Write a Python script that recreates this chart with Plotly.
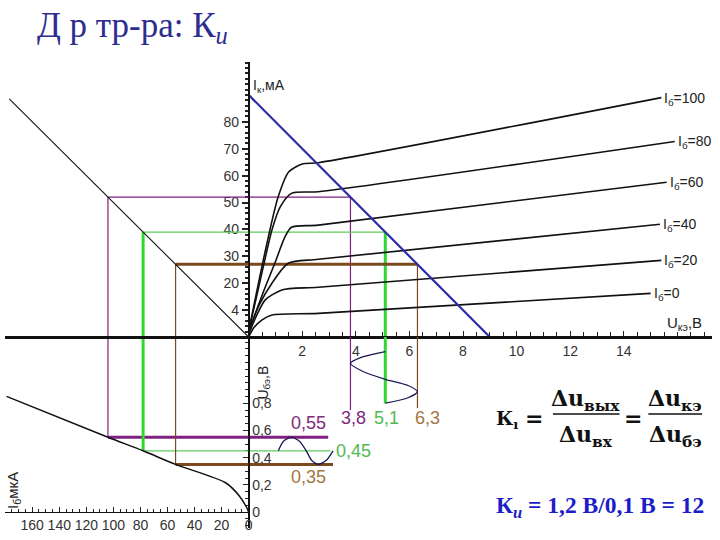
import plotly.graph_objects as go

# ---------------- data ----------------
# output characteristics Iк(Uкэ) for Iб = 0..100 мкА
IB_LEVELS = [100, 80, 60, 40, 20, 0]
U_100 = [0, 0.6, 1.1, 1.5, 2.0, 2.6, 15.4]
I_100 = [2, 31, 52, 61.4, 64.3, 64.8, 89]
U_80 = [0, 0.5, 0.87, 1.18, 1.6, 2.6, 15.9]
I_80 = [2, 24, 39.8, 48.4, 53.4, 54, 72.7]
U_60 = [0, 0.6, 1.0, 1.36, 1.6, 2.6, 15.6]
I_60 = [2, 18, 28, 37.3, 40.8, 41.6, 57.5]
U_40 = [0, 0.4, 0.87, 1.48, 2.6, 15.35]
I_40 = [2, 12, 20, 27.4, 28.9, 41.9]
U_20 = [0, 0.3, 0.62, 1.24, 2.6, 15.4]
I_20 = [1, 8, 13.8, 17.5, 18.5, 28.5]
U_0 = [0, 0.2, 0.49, 0.87, 2.6, 15.0]
I_0 = [0, 3.5, 6.3, 8.2, 8.8, 16.2]

LOAD_U = [0, 9.0]
LOAD_I = [90, 0]

TRANSFER_IB = [0, 177]
TRANSFER_IK = [0, 88.5]

INPUT_IB = [0, 1.5, 7, 17, 54, 78, 104, 179]
INPUT_UBE = [0, 0.035, 0.12, 0.215, 0.35, 0.45, 0.55, 0.85]

OP_IB = [104, 78, 54]
OP_IK = [52, 39, 27]
OP_UKE = [3.8, 5.1, 6.3]
OP_UBE = [0.55, 0.45, 0.35]
OP_DROP_END = [0.75, 0.80, 0.765]
OP_IN_END = [2.97, 3.05, 3.15]

OUT_SINE_U = [5.1, 4.25, 3.8, 4.25, 5.1, 5.95, 6.3, 5.95, 5.1]
OUT_SINE_UBE = [1.18, 1.14, 1.093, 1.035, 0.976, 0.93, 0.885, 0.84, 0.80]
IN_SINE_U = [1.11, 1.3, 1.6, 1.9, 2.15, 2.35, 2.6, 2.9, 3.15]
IN_SINE_UBE = [0.45, 0.52, 0.55, 0.52, 0.45, 0.38, 0.35, 0.38, 0.45]

IK_TICKS = [10, 20, 30, 40, 50, 60, 70, 80]
IK_TICKTEXT = ["4", "20", "30", "40", "50", "60", "70", "80"]
UKE_TICKS = [2, 4, 6, 8, 10, 12, 14]
IB_TICKS = [0, 20, 40, 60, 80, 100, 120, 140, 160]
UBE_TICKS = [0, 0.2, 0.4, 0.6, 0.8]
UBE_TICKTEXT = ["0", "0,2", "0,4", "0,6", "0,8"]

# ---------------- geometry (pixels) ----------------
W, H = 720, 540
OX, OY = 250, 337          # origin of the diagram
SX, SY = 26.95, 2.69       # px per V (Uкэ), px per mA (Iк)
SB, SU = 1.36, 136.0       # px per мкА (Iб), px per V (Uбэ)
UY0 = 512                  # pixel row of Uбэ = 0


def pxx(p):
    return p / W


def pxy(p):
    return 1 - p / H


Y2_TOP = (UY0 - OY) / SU

PURPLE, GREEN, GREEN_T, BROWN = "#7f1f7f", "#2fd82f", "#5ccc5c", "#7a4a1e"
OP_STYLE = [
    dict(c=PURPLE, ct=PURPLE, top=1.2, rv=1.2, lv=1.2, bot=3, lab="#7f2a7f"),
    dict(c=GREEN, ct=GREEN_T, top=1.2, rv=3, lv=3, bot=1.2, lab="#4fba4f"),
    dict(c=BROWN, ct=BROWN, top=3, rv=1.2, lv=1.2, bot=3, lab="#a27645"),
]

fig = go.Figure()


def line(x, y, xa, ya, color, width, shape="linear"):
    fig.add_trace(go.Scatter(x=x, y=y, xaxis=xa, yaxis=ya, mode="lines",
                             line=dict(color=color, width=width, shape=shape, smoothing=0.7),
                             hoverinfo="skip", showlegend=False))


# operating-point construction lines
for i in range(3):
    s = OP_STYLE[i]
    tc = s["ct"] if s["top"] < 2 else s["c"]
    line([OP_IB[i], 0], [OP_IK[i], OP_IK[i]], "x3", "y", tc, s["top"])
    line([0, OP_UKE[i]], [OP_IK[i], OP_IK[i]], "x", "y", tc, s["top"])
    line([OP_UKE[i], OP_UKE[i]], [OP_IK[i], 0], "x", "y", s["c"], s["rv"])
    line([OP_UKE[i], OP_UKE[i]], [Y2_TOP, OP_DROP_END[i]], "x", "y2", s["c"], s["rv"])
    line([OP_IB[i], OP_IB[i]], [OP_IK[i], 0], "x3", "y", s["c"], s["lv"])
    line([OP_IB[i], OP_IB[i]], [Y2_TOP, OP_UBE[i]], "x2", "y2", s["c"], s["lv"])
    hc = s["ct"] if s["bot"] < 2 else s["c"]
    line([OP_IB[i], 0], [OP_UBE[i], OP_UBE[i]], "x2", "y2", hc, s["bot"])
    line([0, OP_IN_END[i]], [OP_UBE[i], OP_UBE[i]], "x", "y2", hc, s["bot"])

# output characteristics
curves = [(U_100, I_100), (U_80, I_80), (U_60, I_60), (U_40, I_40), (U_20, I_20), (U_0, I_0)]
for (u, ik) in curves:
    line(u, ik, "x", "y", "#111111", 1.6, "spline")

line(LOAD_U, LOAD_I, "x", "y", "#2c2ca8", 2.2)
line(TRANSFER_IB, TRANSFER_IK, "x3", "y", "#111111", 1.1)
line(INPUT_IB, INPUT_UBE, "x2", "y2", "#111111", 1.5, "spline")
line(OUT_SINE_U, OUT_SINE_UBE, "x", "y2", "#1a1a55", 1.3, "spline")
line(IN_SINE_U, IN_SINE_UBE, "x", "y2", "#1a1a55", 1.3, "spline")

ann = []
SANS = "Arial, Liberation Sans"
tickfont = dict(family=SANS, size=14, color="#333333")

for lvl, (u, ik) in zip(IB_LEVELS, curves):
    ann.append(dict(x=u[-1], y=ik[-1], xref="x", yref="y", xanchor="left", yanchor="middle",
                    text="I<sub>б</sub>=" + str(lvl), showarrow=False, xshift=1, yshift=-1,
                    font=dict(family=SANS, size=14, color="#222222")))


def fmt(v):
    return ("%g" % v).replace(".", ",")


for i in range(3):
    ann.append(dict(x=OP_UKE[i], y=0.69, xref="x", yref="y2", xanchor="center", yanchor="middle",
                    text=fmt(OP_UKE[i]), showarrow=False, xshift=[3, 1, 10][i],
                    font=dict(family=SANS, size=18, color=OP_STYLE[i]["lab"])))
ann.append(dict(x=2.23, y=0.55, xref="x", yref="y2", yanchor="bottom", text=fmt(OP_UBE[0]),
                showarrow=False, yshift=2, font=dict(family=SANS, size=18, color=OP_STYLE[0]["lab"])))
ann.append(dict(x=3.2, y=0.45, xref="x", yref="y2", xanchor="left", text=fmt(OP_UBE[1]),
                showarrow=False, font=dict(family=SANS, size=18, color=OP_STYLE[1]["lab"])))
ann.append(dict(x=2.23, y=0.35, xref="x", yref="y2", yanchor="top", text=fmt(OP_UBE[2]),
                showarrow=False, yshift=-1, font=dict(family=SANS, size=18, color=OP_STYLE[2]["lab"])))

ann.append(dict(x=pxx(252), y=pxy(86), xref="paper", yref="paper", xanchor="left", yanchor="middle",
                text="I<sub>к</sub>,мА", showarrow=False, font=dict(family=SANS, size=14, color="#222")))
ann.append(dict(x=pxx(669), y=pxy(323), xref="paper", yref="paper", xanchor="left", yanchor="middle",
                text="U<sub>кэ</sub>,В", showarrow=False, font=dict(family=SANS, size=15, color="#222")))
ann.append(dict(x=pxx(265), y=pxy(383), xref="paper", yref="paper", xanchor="center", yanchor="middle",
                text="U<sub>бэ</sub>,В", textangle=-90, showarrow=False,
                font=dict(family=SANS, size=14, color="#222")))
ann.append(dict(x=pxx(13), y=pxy(490), xref="paper", yref="paper", xanchor="center", yanchor="middle",
                text="I<sub>б</sub>мкА", textangle=-90, showarrow=False,
                font=dict(family=SANS, size=15, color="#222")))

ann.append(dict(x=pxx(35), y=pxy(28), xref="paper", yref="paper", xanchor="left", yanchor="middle",
                text="Д р тр-ра: К<sub><i>и</i></sub>", showarrow=False,
                font=dict(family="Liberation Serif, Times New Roman", size=35, color="#2d2d8f")))

ff = dict(family="DejaVu Serif", size=22, color="#111111")
ann.append(dict(x=pxx(497), y=pxy(419), xref="paper", yref="paper", xanchor="left", yanchor="middle",
                text="<b>К<sub>ı</sub></b>", showarrow=False,
                font=dict(family="DejaVu Serif", size=19, color="#111111")))
ann.append(dict(x=pxx(537), y=pxy(418), xref="paper", yref="paper", xanchor="center", yanchor="middle",
                text="<b>=</b>", showarrow=False, font=ff))
ann.append(dict(x=pxx(589), y=pxy(400), xref="paper", yref="paper", xanchor="center", yanchor="middle",
                text="<b>Δu<sub>вых</sub></b>", showarrow=False, font=ff))
ann.append(dict(x=pxx(589), y=pxy(436), xref="paper", yref="paper", xanchor="center", yanchor="middle",
                text="<b>Δu<sub>вх</sub></b>", showarrow=False, font=ff))
ann.append(dict(x=pxx(637), y=pxy(418), xref="paper", yref="paper", xanchor="center", yanchor="middle",
                text="<b>=</b>", showarrow=False, font=ff))
ann.append(dict(x=pxx(679), y=pxy(400), xref="paper", yref="paper", xanchor="center", yanchor="middle",
                text="<b>Δu<sub>кэ</sub></b>", showarrow=False, font=ff))
ann.append(dict(x=pxx(679), y=pxy(436), xref="paper", yref="paper", xanchor="center", yanchor="middle",
                text="<b>Δu<sub>бэ</sub></b>", showarrow=False, font=ff))
ann.append(dict(x=pxx(497), y=pxy(507), xref="paper", yref="paper", xanchor="left", yanchor="middle",
                text="<b>К<sub><i>и</i></sub> = 1,2 В/0,1 В = 12</b>", showarrow=False,
                font=dict(family="Liberation Serif, Times New Roman", size=23.5, color="#1c1cc8")))

shapes = [
    dict(type="line", xref="paper", yref="paper", x0=pxx(556), x1=pxx(623), y0=pxy(414), y1=pxy(414),
         line=dict(color="#111", width=1.5)),
    dict(type="line", xref="paper", yref="paper", x0=pxx(652), x1=pxx(706), y0=pxy(414), y1=pxy(414),
         line=dict(color="#111", width=1.5)),
]

common = dict(showgrid=False, zeroline=False, showline=True, linecolor="#111111", tickfont=tickfont,
              tickcolor="#222222", fixedrange=True)

fig.update_layout(
    width=W, height=H, margin=dict(l=0, r=0, t=0, b=0),
    paper_bgcolor="white", plot_bgcolor="rgba(0,0,0,0)", showlegend=False,
    annotations=ann, shapes=shapes,
    xaxis=dict(domain=[pxx(OX), pxx(716)], range=[0, (716 - OX) / SX], anchor="free", position=pxy(OY),
               linewidth=3, ticks="inside", ticklen=5, tickwidth=1, tickvals=UKE_TICKS,
               minor=dict(dtick=0.5, ticks="inside", ticklen=4, tickcolor="#222"), **common),
    yaxis=dict(domain=[pxy(OY), pxy(62)], range=[0, (OY - 62) / SY], anchor="free", position=pxx(OX),
               linewidth=1.5, ticks="outside", ticklen=6, tickwidth=1.5, tickvals=IK_TICKS, ticktext=IK_TICKTEXT,
               minor=dict(dtick=2, ticks="outside", ticklen=3, tickcolor="#222"), **common),
    xaxis2=dict(domain=[pxx(5), pxx(OX)], range=[(OX - 5) / SB, 0], anchor="free", position=pxy(UY0),
                linewidth=1, ticks="inside", ticklen=5, tickvals=IB_TICKS,
                minor=dict(dtick=5, ticks="inside", ticklen=3, tickcolor="#222"), **common),
    yaxis2=dict(domain=[pxy(528), pxy(OY)], range=[(UY0 - 528) / SU, Y2_TOP], anchor="free", position=pxx(OX),
                side="right", linewidth=1.5, ticks="inside", ticklen=5, tickvals=UBE_TICKS, ticktext=UBE_TICKTEXT,
                minor=dict(dtick=0.05, ticks="inside", ticklen=3, tickcolor="#222"), **common),
    xaxis3=dict(domain=[pxx(5), pxx(OX)], range=[(OX - 5) / SB, 0], anchor="free", position=pxy(OY),
                linewidth=3, ticks="", showticklabels=False, **common),
)

fig.write_html("out.html", config={"displayModeBar": False},
               post_script="document.body.style.margin='0';document.body.style.padding='0';")
